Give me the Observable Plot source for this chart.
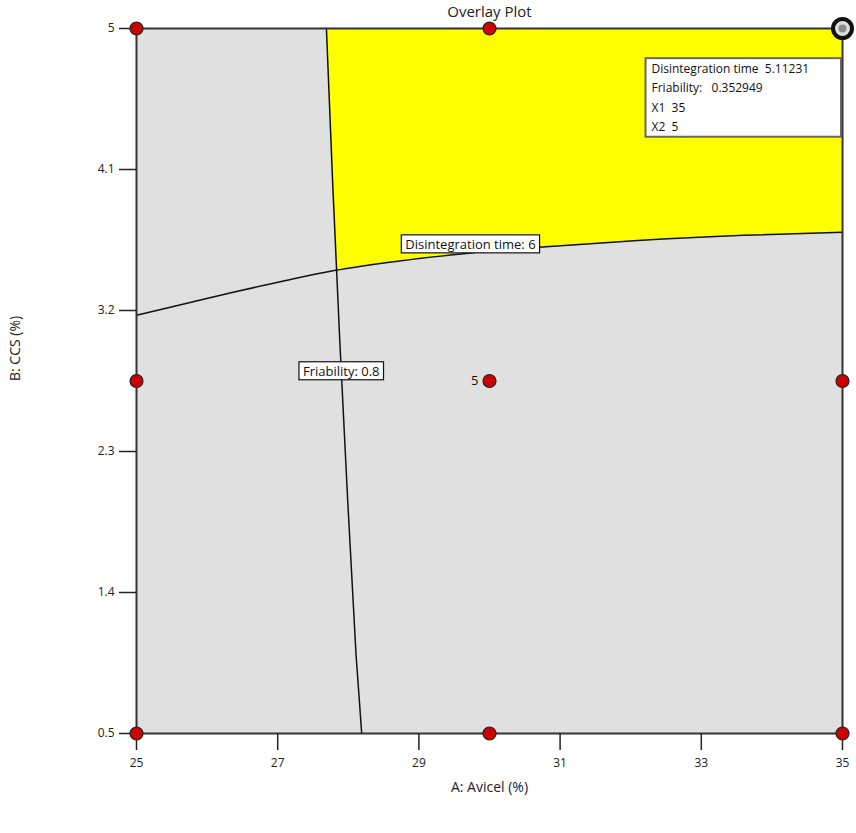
<!DOCTYPE html>
<html>
<head>
<meta charset="utf-8">
<script src="https://cdn.jsdelivr.net/npm/d3@7"></script>
<script src="https://cdn.jsdelivr.net/npm/@observablehq/plot@0.6"></script>
<style>
  html, body { margin: 0; padding: 0; background: white; }
  text { white-space: pre; }
</style>
</head>
<body>
<script>
// Axis ticks
const xTicks = [25, 27, 29, 31, 33, 35];
const yTicks = [0.5, 1.4, 2.3, 3.2, 4.1, 5];

// Design points (A: Avicel, B: CCS)
const designA = [25, 30, 35, 25, 30, 35, 25, 30, 35];
const designB = [5, 5, 5, 2.75, 2.75, 2.75, 0.5, 0.5, 0.5];
const replicateLabel = "5"; // center point replicates

// Disintegration time = 6 contour
const dtA = [25, 25.7, 26.4, 27.1, 27.8, 28.7, 29.7, 30.8, 32.1, 33.6, 35];
const dtB = [3.17, 3.245, 3.32, 3.39, 3.455, 3.515, 3.565, 3.607, 3.647, 3.68, 3.70];

// Friability = 0.8 contour
const frB = [5, 4, 3, 2, 1, 0.5];
const frA = [27.69, 27.78, 27.88, 27.99, 28.11, 28.19];

// Contour labels
const labelText = ["Disintegration time: 6", "Friability: 0.8"];
const labelA = [29.73, 27.9];
const labelB = [3.62, 2.81];

// Flagged optimum
const flagA = 35, flagB = 5;
const flagLines = ["Disintegration time  5.11231", "Friability:   0.352949", "X1  35", "X2  5"];

// ---- derived tables ----
const design = designA.map((a, i) => ({a, b: designB[i]}));
const dt = dtA.map((a, i) => ({a, b: dtB[i]}));
const fr = frA.map((a, i) => ({a, b: frB[i]}));
const labels = labelText.map((t, i) => ({t, a: labelA[i], b: labelB[i]}));

// intersection of the two contours
function intersect(p, q) {
  for (let i = 0; i < p.length - 1; i++) for (let j = 0; j < q.length - 1; j++) {
    const [x1, y1, x2, y2] = [p[i].a, p[i].b, p[i+1].a, p[i+1].b];
    const [x3, y3, x4, y4] = [q[j].a, q[j].b, q[j+1].a, q[j+1].b];
    const d = (x1 - x2) * (y3 - y4) - (y1 - y2) * (x3 - x4);
    if (!d) continue;
    const t = ((x1 - x3) * (y3 - y4) - (y1 - y3) * (x3 - x4)) / d;
    const u = -((x1 - x2) * (y1 - y3) - (y1 - y2) * (x1 - x3)) / d;
    if (t >= 0 && t <= 1 && u >= 0 && u <= 1) return {a: x1 + t * (x2 - x1), b: y1 + t * (y2 - y1)};
  }
  return null;
}
const cross = intersect(dt, fr);
const region = [
  ...fr.filter(d => d.b > cross.b),
  cross,
  ...dt.filter(d => d.a > cross.a),
  {a: 35, b: 5}
];

const fmt = d => String(d);
const chart = Plot.plot({
  width: 856,
  height: 833,
  marginLeft: 136,
  marginRight: 14,
  marginTop: 28,
  marginBottom: 100,
  style: {fontFamily: "'Open Sans', sans-serif", fontSize: "12px", color: "#222", background: "white"},
  x: {domain: [25, 35], label: null},
  y: {domain: [0.5, 5], label: null},
  marks: [
    Plot.frame({fill: "#e0e0e0"}),
    Plot.line(region, {x: "a", y: "b", fill: "#ffff00", stroke: "none"}),
    Plot.line(dt, {x: "a", y: "b", stroke: "#111", strokeWidth: 1.5, curve: "monotone-x"}),
    Plot.line(fr, {x: "a", y: "b", stroke: "#111", strokeWidth: 1.5}),
    Plot.frame({stroke: "#333", strokeWidth: 2}),
    Plot.axisX({ticks: xTicks, tickFormat: fmt, tickSize: 17, tickPadding: 8, label: null, stroke: "#222", strokeWidth: 1.5, fontSize: 12}),
    Plot.axisY({ticks: yTicks, tickFormat: fmt, tickSize: 17, tickPadding: 5, label: null, stroke: "#222", strokeWidth: 1.5, fontSize: 12}),
    Plot.text(labels, {x: "a", y: "b", text: "t", fontSize: 13, fill: "#111"}),
    Plot.dot(design, {x: "a", y: "b", r: 6.5, fill: "#cc0000", stroke: "#222", strokeWidth: 1.2}),
    Plot.text([{a: 30, b: 2.75}], {x: "a", y: "b", text: () => replicateLabel, dx: -11, textAnchor: "end", fontSize: 13, fill: "#111"}),
    Plot.dot([{a: flagA, b: flagB}], {x: "a", y: "b", r: 9.5, fill: "#ddd", stroke: "#111", strokeWidth: 4}),
    Plot.dot([{a: flagA, b: flagB}], {x: "a", y: "b", r: 4, fill: "#8a8a8a", stroke: "none"}),
    Plot.text([flagLines.join("\n")], {x: () => flagA, y: () => flagB, text: d => d, textAnchor: "start", lineAnchor: "top", lineHeight: 1.6, dx: -191, dy: 31, fontSize: 12, fill: "#111"}),
    Plot.text(["Overlay Plot"], {frameAnchor: "top", lineAnchor: "middle", dy: -16, fontSize: 15, fill: "#222"}),
    Plot.text(["A: Avicel (%)"], {frameAnchor: "bottom", lineAnchor: "middle", dy: 54, fontSize: 14, fill: "#222"}),
    Plot.text(["B: CCS (%)"], {frameAnchor: "left", dx: -121, rotate: -90, fontSize: 14, fill: "#222"})
  ]
});
document.body.append(chart);

// add white boxes behind the contour labels and the tooltip
const NS = "http://www.w3.org/2000/svg";
function offsetOf(el) {
  let ox = 0, oy = 0;
  for (let n = el; n && n !== chart; n = n.parentNode) {
    const tr = n.getAttribute && n.getAttribute("transform");
    if (tr) { const m = /translate\(([-\d.e]+)[,\s]+([-\d.e]+)\)/.exec(tr); if (m) { ox += +m[1]; oy += +m[2]; } }
  }
  return [ox, oy];
}
function boxBehind(t, opts) {
  const bb = t.getBBox();
  const [ox, oy] = offsetOf(t);
  const r = document.createElementNS(NS, "rect");
  const x0 = bb.x + ox - opts.px;
  const x1 = opts.right != null ? opts.right : bb.x + ox + bb.width + opts.px;
  r.setAttribute("x", x0);
  r.setAttribute("y", bb.y + oy - opts.py);
  r.setAttribute("width", x1 - x0);
  r.setAttribute("height", bb.height + 2 * opts.py);
  r.setAttribute("fill", "white");
  r.setAttribute("stroke", opts.stroke);
  r.setAttribute("stroke-width", opts.sw);
  chart.insertBefore(r, t.closest("g"));
}
chart.querySelectorAll("text").forEach(t => {
  const s = t.textContent;
  if (labelText.includes(s)) boxBehind(t, {px: 4, py: 0, stroke: "#111", sw: 1.2});
  else if (s.startsWith(flagLines[0])) boxBehind(t, {px: 6, py: 2, right: 841, stroke: "#666", sw: 2});
});
</script>
</body>
</html>
